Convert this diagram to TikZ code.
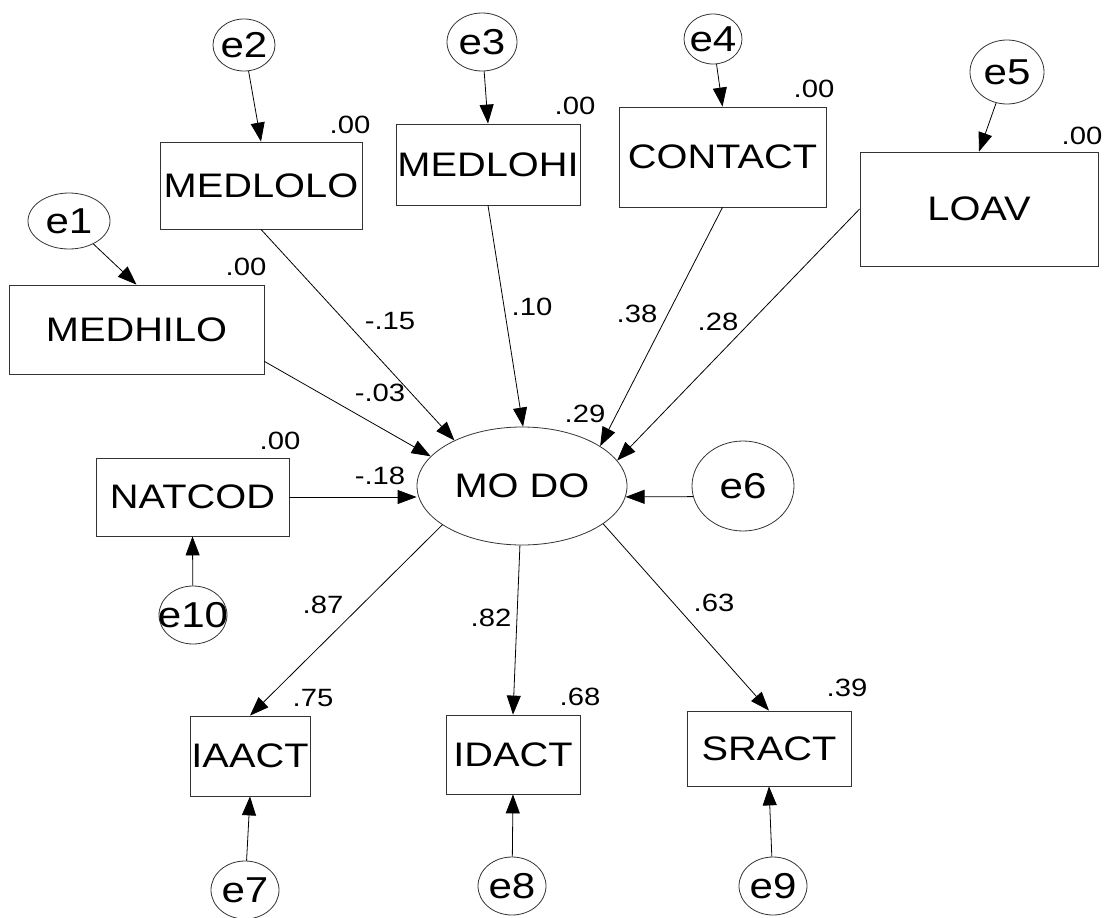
\documentclass[tikz,border=0pt]{standalone}
\usepackage{fontspec}
\setmainfont[FakeStretch=1.17]{Liberation Sans}
\usetikzlibrary{shapes.geometric,arrows.meta}
\newcommand{\nolap}[1]{\makebox[0pt]{#1}}
\begin{document}
\begin{tikzpicture}[x=1pt,y=-1pt,
  obs/.style={draw=black!80, rectangle, inner sep=0pt, line width=0.8pt,
    font=\fontsize{34}{40}\selectfont},
  lat/.style={draw=black!80, ellipse, inner sep=0pt, line width=0.8pt,
    font=\fontsize{34}{40}\selectfont},
  err/.style={lat, minimum width=68pt, minimum height=58pt,
    font=\fontsize{36}{42}\selectfont},
  coef/.style={inner sep=0pt, font=\fontsize{25}{30}\selectfont},
  path/.style={line width=0.8pt, -{Triangle[length=19pt,width=14pt]}}]
\useasboundingbox (0,0) rectangle (1109,918);

% observed variables
\node[obs, minimum width=255pt, minimum height=89pt] (medhilo) at (136.5,329.5) {MEDHILO};
\node[obs, minimum width=202pt, minimum height=87pt] (medlolo) at (261,185.5) {MEDLOLO};
\node[obs, minimum width=184pt, minimum height=81pt] (medlohi) at (488,164.5) {MEDLOHI};
\node[obs, minimum width=207pt, minimum height=100pt] (contact) at (722.5,157) {CONTACT};
\node[obs, minimum width=238pt, minimum height=114pt] (loav) at (979,209) {LOAV};
\node[obs, minimum width=193pt, minimum height=78pt] (natcod) at (192.5,497) {NATCOD};
\node[obs, minimum width=120pt, minimum height=80pt] (iaact) at (250,756) {IAACT};
\node[obs, minimum width=134pt, minimum height=79pt] (idact) at (513,754.5) {IDACT};
\node[obs, minimum width=164pt, minimum height=75pt] (sract) at (769,748.5) {SRACT};

% latent variable
\node[lat, minimum width=210pt, minimum height=118pt] (modo) at (522,486) {MO DO};

% error terms
\node[err, minimum width=82pt, minimum height=56pt] (e1) at (69,221) {\nolap{e1}};
\node[err, minimum width=62pt, minimum height=52pt] (e2) at (244,45) {\nolap{e2}};
\node[err, minimum width=70pt, minimum height=58pt] (e3) at (482,42) {\nolap{e3}};
\node[err, minimum width=58pt, minimum height=50pt] (e4) at (713,39) {\nolap{e4}};
\node[err, minimum width=74pt, minimum height=64pt] (e5) at (1007,72) {\nolap{e5}};
\node[err, minimum width=102pt, minimum height=90pt] (e6) at (743,486) {\nolap{e6}};
\node[err] (e7) at (245,890) {\nolap{e7}};
\node[err] (e8) at (512,886) {\nolap{e8}};
\node[err] (e9) at (773,886) {\nolap{e9}};
\node[err] (e10) at (193,615) {\nolap{e10}};

% squared multiple correlations
\node[coef] (r1) at (246,267) {.00};
\node[coef] (r2) at (350,125) {.00};
\node[coef] (r3) at (575,106) {.00};
\node[coef] (r4) at (814,89) {.00};
\node[coef] (r5) at (1082,136) {.00};
\node[coef] (r10) at (280,441) {.00};
\node[coef] (r0) at (585,414) {.29};
\node[coef] (r7) at (313,698) {.75};
\node[coef] (r8) at (580,697) {.68};
\node[coef] (r9) at (847,688) {.39};

% path coefficients
\node[coef] (b1) at (380,393) {-.03};
\node[coef] (b2) at (390,321) {-.15};
\node[coef] (b3) at (532,307) {.10};
\node[coef] (b4) at (637,314) {.38};
\node[coef] (b5) at (718,322) {.28};
\node[coef] (b10) at (380,476) {-.18};
\node[coef] (l7) at (323,605) {.87};
\node[coef] (l8) at (491,618) {.82};
\node[coef] (l9) at (714,603) {.63};

% arrows
\draw[path] (e1) -- (medhilo.north);
\draw[path] (e2) -- (medlolo.north);
\draw[path] (e3) -- (medlohi.north);
\draw[path] (e4) -- (contact.north);
\draw[path] (e5) -- (loav.north);
\draw[path] (medhilo.346) -- (modo.162);
\draw[path] (medlolo.south) -- (modo.146);
\draw[path] (medlohi.south) -- (modo.89);
\draw[path] (contact.south) -- (modo.27);
\draw[path] (loav.west) -- (modo.15);
\draw[path] (natcod) -- (natcod -| modo.west);
\draw[path] (e6.192) -- (modo.354);
\draw[path] (modo.206) -- (iaact.north);
\draw[path] (modo.268) -- (idact.north);
\draw[path] (modo.335) -- (sract.north);
\draw[path] (e7) -- (iaact.south);
\draw[path] (e8) -- (idact.south);
\draw[path] (e9) -- (sract.south);
\draw[path] (e10) -- (natcod.south);
\end{tikzpicture}
\end{document}
